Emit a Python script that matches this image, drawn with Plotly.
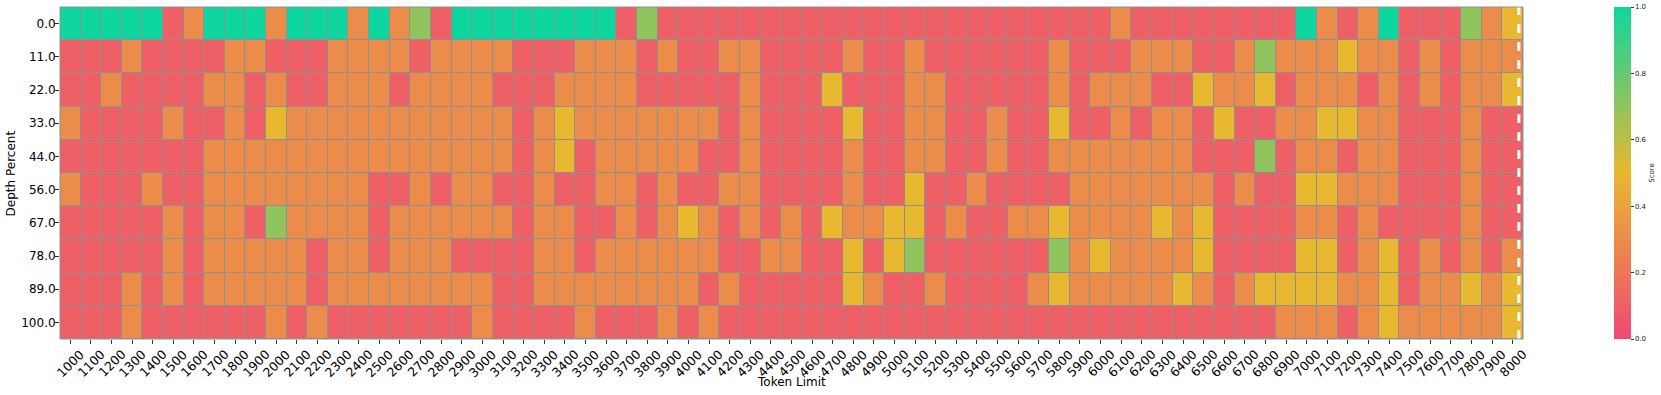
import plotly.graph_objects as go

# Token limits (columns) and depth percents (rows)
token_limits = list(range(1000, 8001, 100))
depth_percent = [0.0, 11.0, 22.0, 33.0, 44.0, 56.0, 67.0, 78.0, 89.0, 100.0]
depth_labels = [f"{d:.1f}" for d in depth_percent]

# Scores per depth row, 71 values each (1000..8000)
score_d0 = [1, 1, 1, 1, 1, .1, .3, 1, 1, 1,
            .3, 1, 1, 1, .3, 1, .3, .7, .1, 1,
            1, 1, 1, 1, 1, 1, 1, .1, .7, .1,
            .1, .1, .1, .1, .1, .1, .1, .1, .1, .1,
            .1, .1, .1, .1, .1, .1, .1, .1, .1, .1,
            .1, .3, .1, .1, .1, .1, .1, .1, .1, .1,
            1, .3, .1, .3, 1, .1, .1, .1, .7, .3,
            .5]
score_d11 = [.1, .1, .1, .3, .1, .1, .1, .1, .3, .3,
             .1, .1, .1, .3, .3, .3, .3, .1, .3, .3,
             .3, .3, .1, .1, .1, .3, .3, .3, .1, .3,
             .1, .1, .3, .3, .1, .1, .1, .1, .3, .1,
             .1, .3, .1, .1, .1, .1, .1, .1, .3, .1,
             .1, .1, .3, .3, .3, .1, .1, .3, .7, .3,
             .3, .3, .5, .3, .3, .1, .3, .1, .3, .3,
             .3]
score_d22 = [.1, .1, .3, .1, .1, .1, .1, .3, .3, .1,
             .3, .1, .1, .3, .3, .3, .1, .3, .3, .3,
             .3, .1, .1, .1, .3, .3, .3, .3, .1, .1,
             .1, .1, .1, .3, .1, .1, .1, .5, .1, .1,
             .1, .3, .3, .1, .1, .1, .1, .1, .3, .1,
             .3, .3, .3, .1, .1, .5, .3, .3, .5, .1,
             .3, .3, .3, .1, .3, .1, .3, .1, .3, .3,
             .5]
score_d33 = [.3, .1, .1, .1, .1, .3, .1, .1, .3, .1,
             .5, .3, .3, .3, .3, .3, .3, .3, .3, .3,
             .3, .3, .1, .3, .5, .3, .3, .3, .3, .3,
             .3, .3, .1, .3, .1, .1, .1, .1, .5, .1,
             .1, .3, .3, .1, .1, .3, .1, .1, .5, .1,
             .1, .3, .1, .3, .3, .1, .5, .1, .1, .3,
             .3, .5, .5, .3, .3, .1, .1, .1, .3, .1,
             .1]
score_d44 = [.1, .1, .1, .1, .1, .1, .1, .3, .3, .3,
             .3, .3, .3, .3, .3, .3, .3, .3, .3, .3,
             .3, .3, .1, .3, .5, .1, .3, .3, .3, .3,
             .3, .1, .1, .3, .1, .1, .1, .1, .3, .1,
             .1, .3, .3, .1, .1, .3, .1, .1, .3, .3,
             .3, .3, .3, .3, .3, .1, .1, .1, .7, .1,
             .3, .3, .1, .3, .3, .1, .1, .1, .3, .1,
             .1]
score_d56 = [.3, .1, .1, .1, .3, .1, .1, .3, .3, .3,
             .3, .3, .3, .3, .3, .1, .1, .3, .1, .3,
             .3, .1, .1, .3, .1, .1, .3, .3, .1, .3,
             .1, .1, .3, .3, .1, .1, .1, .1, .3, .1,
             .1, .5, .1, .1, .3, .1, .1, .1, .1, .3,
             .3, .3, .3, .3, .3, .3, .1, .3, .1, .1,
             .5, .5, .3, .3, .3, .1, .1, .1, .3, .1,
             .1]
score_d67 = [.1, .1, .1, .1, .1, .3, .1, .3, .3, .1,
             .7, .3, .3, .3, .3, .1, .3, .3, .3, .3,
             .3, .3, .1, .3, .3, .1, .1, .3, .1, .3,
             .5, .3, .1, .3, .1, .3, .1, .5, .3, .3,
             .5, .5, .1, .3, .1, .1, .3, .3, .5, .3,
             .3, .3, .3, .5, .3, .5, .1, .1, .1, .1,
             .3, .3, .1, .3, .1, .1, .1, .1, .3, .1,
             .1]
score_d78 = [.1, .1, .1, .1, .1, .3, .1, .3, .3, .3,
             .3, .3, .1, .3, .3, .1, .3, .3, .3, .1,
             .1, .1, .1, .3, .3, .1, .3, .3, .3, .3,
             .3, .3, .1, .1, .3, .3, .1, .1, .5, .1,
             .5, .7, .1, .1, .1, .1, .1, .1, .7, .3,
             .5, .3, .3, .3, .3, .5, .1, .1, .1, .1,
             .5, .5, .1, .3, .5, .1, .3, .1, .3, .1,
             .3]
score_d89 = [.1, .1, .1, .3, .1, .3, .1, .3, .3, .3,
             .3, .3, .1, .3, .3, .3, .3, .3, .3, .3,
             .3, .1, .1, .3, .3, .3, .3, .3, .3, .3,
             .3, .1, .3, .1, .1, .1, .1, .1, .5, .3,
             .1, .1, .3, .1, .1, .1, .1, .3, .5, .3,
             .3, .3, .3, .3, .5, .3, .1, .3, .5, .5,
             .5, .5, .3, .3, .5, .1, .3, .3, .5, .3,
             .5]
score_d100 = [.1, .1, .1, .3, .1, .1, .1, .1, .1, .1,
              .3, .1, .3, .1, .1, .1, .1, .1, .1, .1,
              .3, .1, .1, .1, .1, .3, .1, .1, .1, .3,
              .1, .3, .1, .1, .1, .1, .1, .1, .1, .1,
              .1, .1, .1, .1, .1, .1, .1, .1, .1, .1,
              .1, .1, .1, .1, .1, .1, .1, .1, .1, .3,
              .3, .3, .1, .3, .5, .3, .3, .3, .3, .3,
              .5]

scores = [score_d0, score_d11, score_d22, score_d33, score_d44,
          score_d56, score_d67, score_d78, score_d89, score_d100]

# Position of the dashed reference line (token limit)
reference_limit = 8030

colorscale = [[0.0, "#F04974"], [0.5, "#E8B830"], [1.0, "#0DD69F"]]
FONT = "DejaVu Sans"

fig = go.Figure()
fig.add_trace(go.Heatmap(
    z=scores,
    x=token_limits,
    y=depth_labels,
    zmin=0, zmax=1,
    colorscale=colorscale,
    xgap=1, ygap=1,
    colorbar=dict(
        x=1.0622, xanchor="left", xpad=0,
        y=0.5, yanchor="middle", len=1, lenmode="fraction", ypad=0,
        thickness=17, outlinewidth=0,
        tickvals=[0, 0.2, 0.4, 0.6, 0.8, 1.0],
        ticktext=["0.0", "0.2", "0.4", "0.6", "0.8", "1.0"],
        ticks="outside", ticklen=3, tickcolor="#333",
        tickfont=dict(family=FONT, size=7, color="#222"),
    ),
    hovertemplate="Token Limit %{x}<br>Depth %{y}<br>Score %{z}<extra></extra>",
))

fig.add_shape(type="line", xref="x", yref="y domain",
              x0=reference_limit, x1=reference_limit, y0=0, y1=1,
              line=dict(color="white", width=3, dash="dash"))
fig.add_shape(type="rect", xref="x domain", yref="y domain",
              x0=0, x1=1, y0=0, y1=1,
              line=dict(color="#909090", width=1))

# Rotated x tick labels centred on each tick (matplotlib-style)
for t in token_limits:
    fig.add_annotation(text=str(t), xref="x", yref="paper", x=t, y=0,
                       xanchor="center", yanchor="top", yshift=-6,
                       textangle=-45, showarrow=False, borderpad=0,
                       font=dict(family=FONT, size=12.5, color="black"))

# Axis and colorbar titles as annotations for exact placement
fig.add_annotation(text="Score", xref="paper", yref="paper",
                   x=1.088, y=0.5, xanchor="center", yanchor="middle",
                   textangle=-90, showarrow=False,
                   font=dict(family=FONT, size=7, color="#222"))
fig.add_annotation(text="Token Limit", xref="paper", yref="paper",
                   x=0.5, y=-0.1295, xanchor="center", yanchor="middle", showarrow=False,
                   font=dict(family=FONT, size=12, color="black"))
fig.add_annotation(text="Depth Percent", xref="paper", yref="paper",
                   x=-0.0332, y=0.5, xanchor="center", yanchor="middle",
                   textangle=-90, showarrow=False,
                   font=dict(family=FONT, size=12, color="black"))

fig.update_xaxes(
    range=[950, 8050],
    tickmode="array", tickvals=token_limits, showticklabels=False,
    ticks="outside", ticklen=4, tickcolor="#333",
    showgrid=False, zeroline=False, automargin=False,
)
fig.update_yaxes(
    autorange="reversed",
    ticks="outside", ticklen=4, tickcolor="#333", ticklabelstandoff=-3,
    tickfont=dict(family=FONT, size=12, color="black"),
    showgrid=False, zeroline=False, automargin=False,
)

fig.update_layout(
    width=1661, height=395,
    margin=dict(l=60, r=138, t=7, b=56, autoexpand=False),
    paper_bgcolor="white",
    plot_bgcolor="#909090",
    font=dict(family=FONT),
)

fig.write_html("out.html", config={"displayModeBar": False},
               post_script="document.body.style.margin='0';")
